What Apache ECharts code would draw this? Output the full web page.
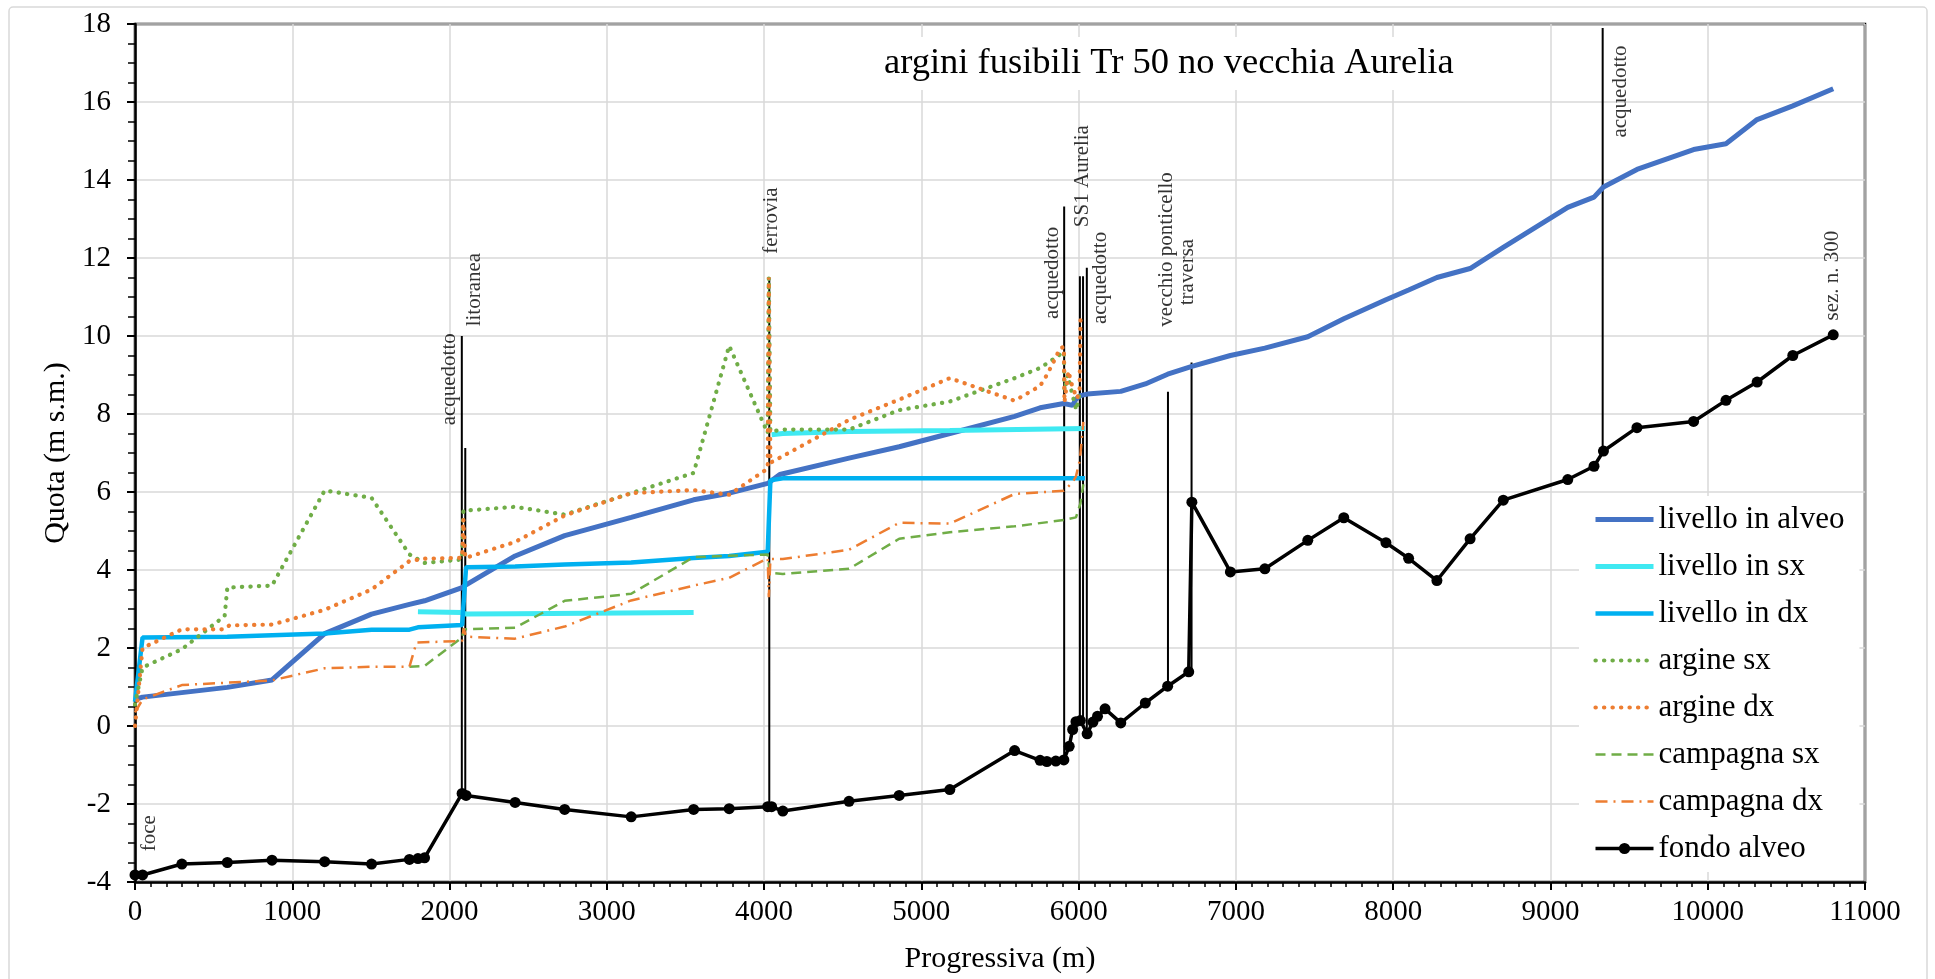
<!DOCTYPE html>
<html><head><meta charset="utf-8">
<script src="https://cdn.jsdelivr.net/npm/echarts@6/dist/echarts.min.js"></script>
<style>html,body{margin:0;padding:0;background:#fff}#c{width:1935px;height:979px}</style>
</head><body><div id="c"></div>
<script>
const FONT = "'Liberation Serif', 'Times New Roman', serif";
const chartTitle = 'argini fusibili Tr 50 no vecchia Aurelia';
const xAxisName = 'Progressiva (m)';
const yAxisName = 'Quota (m s.m.)';
const seriesNames = ['livello in alveo','livello in sx','livello in dx','argine sx','argine dx','campagna sx','campagna dx','fondo alveo'];

// fondo alveo
const fondoX = [0,48,298,587,871,1206,1504,1745,1799,1841,2080,2105,2417,2732,3155,3552,3778,4023,4048,4119,4540,4859,5181,5593,5755,5798,5855,5906,5940,5962,5983,6011,6054,6091,6120,6168,6268,6424,6566,6700,6720,6965,7184,7457,7686,7954,8098,8278,8489,8700,9110,9277,9337,9550,9910,10116,10314,10541,10798];
const fondoY = [-3.82,-3.82,-3.54,-3.50,-3.44,-3.48,-3.54,-3.42,-3.40,-3.38,-1.73,-1.78,-1.96,-2.14,-2.33,-2.14,-2.12,-2.07,-2.07,-2.18,-1.93,-1.78,-1.63,-0.63,-0.88,-0.91,-0.90,-0.87,-0.52,-0.09,0.11,0.14,-0.20,0.10,0.25,0.44,0.08,0.59,1.02,1.39,5.74,3.95,4.03,4.76,5.34,4.70,4.30,3.73,4.80,5.79,6.32,6.66,7.05,7.65,7.81,8.35,8.82,9.50,10.03];

// livello in alveo
const alveoX = [0,48,587,871,1206,1504,1745,1841,2080,2105,2417,2732,3155,3552,3778,4023,4100,4540,4859,5181,5593,5755,5906,5962,5983,6011,6054,6268,6424,6566,6720,6965,7184,7457,7686,7954,8098,8278,8489,8700,9110,9277,9337,9550,9910,10116,10314,10541,10798];
const alveoY = [0.68,0.74,0.99,1.18,2.37,2.87,3.12,3.21,3.55,3.62,4.36,4.88,5.35,5.80,5.97,6.22,6.45,6.87,7.16,7.50,7.94,8.16,8.27,8.22,8.38,8.47,8.51,8.58,8.77,9.02,9.22,9.50,9.69,9.98,10.44,10.93,11.18,11.50,11.73,12.27,13.30,13.56,13.82,14.27,14.78,14.93,15.55,15.90,16.34];

// livello in sx (null = gap)
const sxX = [1799,2080,2105,2417,3552,3800,4048,4119,4540,5181,6040];
const sxY = [2.93,2.91,2.87,2.88,2.91,null,7.47,7.50,7.55,7.58,7.63];

// livello in dx
const dxX = [0,48,587,1206,1504,1745,1799,2080,2105,2417,2732,3155,3552,3778,4023,4040,4119,6040];
const dxY = [0.62,2.27,2.29,2.37,2.47,2.47,2.53,2.59,4.07,4.09,4.14,4.19,4.31,4.36,4.47,6.30,6.35,6.35];

// argine sx
const argSxX = [0,48,298,570,587,871,1206,1504,1745,1841,2080,2088,2417,2732,3155,3552,3778,4023,4030,4040,4119,4540,4859,5181,5593,5755,5855,5906,5910,5930,5960,5985,6005];
const argSxY = [0.55,1.50,1.97,2.82,3.55,3.60,6.04,5.85,4.40,4.18,4.27,5.52,5.62,5.42,5.97,6.49,9.75,7.51,11.50,7.55,7.60,7.60,8.10,8.32,8.92,9.18,9.45,9.60,8.60,9.00,8.50,8.10,8.50];

// argine dx
const argDxX = [0,48,298,570,600,871,1206,1504,1745,1841,2080,2088,2100,2417,2732,3155,3552,3778,4023,4030,4040,4119,4540,4859,5181,5593,5755,5798,5855,5880,5906,5910,5935,5960,5990,6006,6012];
const argDxY = [0.00,2.00,2.48,2.48,2.58,2.60,2.98,3.50,4.23,4.29,4.31,5.30,4.31,4.72,5.40,5.97,6.05,5.93,6.60,11.50,6.75,6.92,7.85,8.37,8.92,8.34,8.72,9.00,9.45,9.68,9.72,8.30,9.10,8.70,8.40,8.60,10.55];

// campagna sx
const campSxX = [1745,1841,2080,2090,2417,2732,3155,3552,4023,4035,4119,4540,4859,5181,5593,5906,5983,6011,6030];
const campSxY = [1.52,1.54,2.27,2.48,2.52,3.21,3.39,4.33,4.40,3.93,3.90,4.03,4.80,4.97,5.12,5.28,5.35,5.70,6.20];

// campagna dx
const campDxX = [0,48,298,587,871,1206,1504,1745,1790,2080,2090,2105,2417,2732,3155,3552,3778,4023,4030,4040,4119,4540,4859,5181,5593,5906,5962,5983,6008,6030];
const campDxY = [0.35,0.68,1.05,1.11,1.17,1.48,1.52,1.52,2.14,2.18,2.50,2.29,2.24,2.55,3.22,3.60,3.80,4.30,3.30,4.28,4.28,4.52,5.21,5.19,5.95,6.03,6.25,6.40,6.83,7.80];

// structures (vertical lines)
const structX = [2078,2100,4033,5908,6008,6028,6052,6568,6718,9332];
const structBottom = [-1.73,-1.78,-2.07,-0.87,0.12,0.14,-0.20,1.02,1.39,7.00];
const structTop = [10.00,7.13,11.50,13.32,11.53,11.53,11.75,8.57,9.32,17.90];

// annotation labels
const annotNames = ['foce','acquedotto','litoranea','ferrovia','acquedotto','SS1 Aurelia','acquedotto','vecchio ponticello','traversa','acquedotto','sez. n. 300'];
const annotX = [93,1997,2160,4049,5836,6027,6142,6561,6695,9443,10791];
const annotY = [-2.75,8.89,11.19,12.96,11.62,14.10,11.49,12.22,11.64,16.27,11.55];

const zip = (xs, ys) => xs.map((x, i) => ys[i] === null ? [x, '-'] : [x, ys[i]]);
const structData = [];
structX.forEach((x, i) => { structData.push([x, structBottom[i]], [x, structTop[i]], [x, '-']); });

const dotted = (color) => ({ color, width: 4.2, type: [0.3, 8.2], cap: 'round' });
const lineSeries = (name, data, lineStyle, extra) => Object.assign({
  name, type: 'line', data, symbol: 'none', lineStyle, itemStyle: { color: lineStyle.color },
  connectNulls: false, silent: true, animation: false
}, extra || {});

const styles = [
  { color: '#4472C4', width: 5 },
  { color: '#3FE9F2', width: 5 },
  { color: '#00B0F0', width: 4.5 },
  dotted('#70AD47'),
  dotted('#ED7D31'),
  { color: '#70AD47', width: 2.5, type: [10, 6] },
  { color: '#ED7D31', width: 2.5, type: [12, 6, 2, 6] },
  { color: '#000', width: 3.5 }
];
const legendData = seriesNames.map((n, i) => ({
  name: n,
  lineStyle: { width: styles[i].width },
  itemStyle: i === 7 ? { color: '#000' } : { opacity: 0 }
}));

const chart = echarts.init(document.getElementById('c'), null, { renderer: 'canvas' });
chart.setOption({
  backgroundColor: '#fff',
  animation: false,
  graphic: [{ type: 'rect', shape: { x: 9, y: 7, width: 1918, height: 990, r: 4 }, style: { fill: 'none', stroke: '#d9d9d9', lineWidth: 1.5 }, z: -10, silent: true }],
  title: {
    text: chartTitle, left: 870, top: 37, padding: [8, 14], backgroundColor: '#fff',
    textStyle: { fontFamily: FONT, fontSize: 36.5, fontWeight: 'normal', color: '#000' }, z: 5
  },
  legend: {
    data: legendData, orient: 'vertical', left: 1579, top: 496,
    padding: [8, 15, 8, 14], backgroundColor: '#fff',
    itemWidth: 58, itemHeight: 14, itemGap: 16,
    textStyle: { fontFamily: FONT, fontSize: 31, color: '#000' }, selectedMode: false
  },
  grid: { left: 135, right: 70, top: 24, bottom: 95, show: true, borderColor: '#000', borderWidth: 2.5 },
  xAxis: {
    type: 'value', min: 0, max: 11000, interval: 1000,
    name: xAxisName, nameLocation: 'middle', nameGap: 62,
    nameTextStyle: { fontFamily: FONT, fontSize: 30, color: '#000' },
    axisLine: { show: true, onZero: false, lineStyle: { color: '#000', width: 2.5 } },
    axisTick: { show: true, length: 8, lineStyle: { color: '#000', width: 2 } },
    minorTick: { show: true, splitNumber: 10, length: 5, lineStyle: { color: '#000', width: 1.5 } },
    axisLabel: { fontFamily: FONT, fontSize: 29, color: '#000', margin: 16, formatter: v => String(v) },
    splitLine: { show: true, lineStyle: { color: '#d9d9d9', width: 1.5 } }
  },
  yAxis: {
    type: 'value', min: -4, max: 18, interval: 2,
    name: yAxisName, nameLocation: 'middle', nameGap: 60,
    nameTextStyle: { fontFamily: FONT, fontSize: 30, color: '#000' },
    axisLine: { show: true, onZero: false, lineStyle: { color: '#000', width: 2.5 } },
    axisTick: { show: true, length: 8, lineStyle: { color: '#000', width: 2 } },
    minorTick: { show: true, splitNumber: 4, length: 7, lineStyle: { color: '#000', width: 1.5 } },
    axisLabel: { fontFamily: FONT, fontSize: 29, color: '#000', margin: 24, formatter: v => String(v) },
    splitLine: { show: true, lineStyle: { color: '#d9d9d9', width: 1.5 } }
  },
  series: [
    lineSeries('strutture', structData, { color: '#000', width: 2 }),
    lineSeries(seriesNames[0], zip(alveoX, alveoY), styles[0]),
    lineSeries(seriesNames[1], zip(sxX, sxY), styles[1]),
    lineSeries(seriesNames[2], zip(dxX, dxY), styles[2]),
    lineSeries(seriesNames[3], zip(argSxX, argSxY), styles[3]),
    lineSeries(seriesNames[4], zip(argDxX, argDxY), styles[4]),
    lineSeries(seriesNames[5], zip(campSxX, campSxY), styles[5]),
    lineSeries(seriesNames[6], zip(campDxX, campDxY), styles[6]),
    lineSeries(seriesNames[7], zip(fondoX, fondoY), styles[7], { symbol: 'circle', symbolSize: 11, showSymbol: true, itemStyle: { color: '#000' } }),
    {
      name: 'etichette', type: 'scatter', silent: true, animation: false,
      symbolSize: 1, itemStyle: { color: 'rgba(0,0,0,0)' },
      data: annotNames.map((n, i) => ({ name: n, value: [annotX[i], annotY[i]] })),
      label: { show: true, position: 'inside', rotate: 90, formatter: '{b}', fontFamily: FONT, fontSize: 21, color: '#000' }
    }
  ]
});
</script></body></html>
